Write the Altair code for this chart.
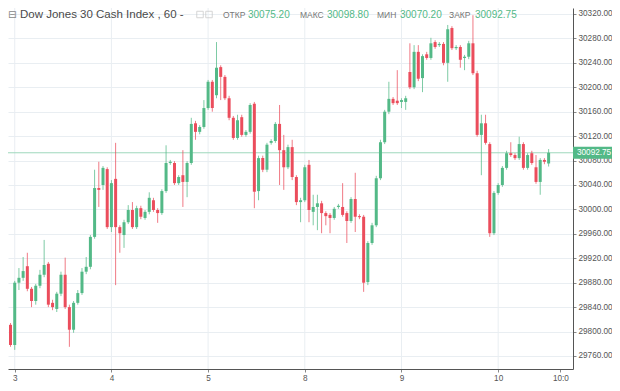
import altair as alt
import pandas as pd

# ---- hourly candles (Dow Jones 30 Cash Index, 60 min) ----
opens = [29811, 29778, 29880, 29888, 29907, 29870, 29850, 29875, 29893, 29911,
         29847, 29837, 29862, 29893, 29840, 29803, 29847, 29863, 29898, 29906,
         29955, 30035, 30040, 30066, 29971, 30050, 29971, 29958, 29979, 29999,
         29971, 30002, 29986, 29996, 30015, 29999, 29994, 30030, 30076, 30076,
         30043, 30056, 30045, 30076, 30141, 30127, 30135, 30166, 30209, 30187,
         30233, 30217, 30182, 30150, 30117, 30151, 30122, 30127, 30173, 30030,
         30084, 30065, 30109, 30112, 30140, 30097, 30069, 30102, 30053, 30012,
         30015, 30073, 29996, 30004, 30010, 29994, 29991, 29986, 30004, 30004,
         29994, 29981, 30017, 29989, 29988, 29881, 29945, 29974, 30051, 30110,
         30160, 30181, 30178, 30176, 30176, 30225, 30200, 30258, 30215, 30254,
         30248, 30274, 30269, 30271, 30240, 30297, 30264, 30266, 30248, 30250,
         30272, 30223, 30122, 30141, 30107, 29961, 30027, 30040, 30068, 30092,
         30089, 30084, 30107, 30068, 30092, 30069, 30045, 30081, 30075.20]
highs = [29814, 29883, 29904, 29922, 29929, 29873, 29878, 29901, 29950, 29914,
         29852, 29865, 29898, 29921, 29844, 29850, 29868, 29904, 29922, 29958,
         30065, 30078, 30071, 30069, 30048, 30109, 29974, 29983, 30007, 30012,
         30006, 30006, 29999, 30028, 30019, 30002, 30033, 30105, 30081, 30079,
         30056, 30097, 30079, 30150, 30145, 30138, 30179, 30212, 30212, 30274,
         30236, 30220, 30186, 30153, 30155, 30155, 30130, 30174, 30176, 30088,
         30088, 30109, 30115, 30143, 30171, 30122, 30106, 30114, 30056, 30019,
         30073, 30081, 30024, 30024, 30014, 29997, 29994, 30004, 30009, 30043,
         29997, 30020, 30060, 29992, 29991, 29948, 29978, 30055, 30114, 30163,
         30209, 30184, 30228, 30182, 30186, 30272, 30269, 30269, 30254, 30258,
         30281, 30277, 30274, 30274, 30302, 30300, 30269, 30269, 30253, 30276,
         30318, 30227, 30155, 30155, 30110, 30030, 30043, 30071, 30096, 30110,
         30092, 30119, 30110, 30092, 30096, 30089, 30084, 30084, 30098.80]
lows = [29775, 29770, 29868, 29883, 29866, 29840, 29844, 29871, 29889, 29840,
        29835, 29832, 29858, 29837, 29775, 29798, 29844, 29860, 29894, 29902,
        29952, 30004, 30032, 29968, 29963, 29876, 29929, 29937, 29976, 29968,
        29968, 29984, 29983, 29992, 29996, 29978, 29991, 30027, 30073, 30040,
        30040, 30004, 30020, 30073, 30114, 30123, 30132, 30163, 30160, 30182,
        30179, 30179, 30146, 30114, 30114, 30119, 30119, 30124, 30002, 30015,
        30061, 30061, 30106, 30109, 30040, 30032, 30066, 30048, 30007, 29979,
        30012, 29979, 29974, 29966, 29961, 29974, 29961, 29983, 30001, 29988,
        29945, 29978, 29963, 29984, 29865, 29876, 29942, 29971, 30048, 30107,
        30156, 30171, 30171, 30166, 30163, 30197, 30197, 30210, 30192, 30245,
        30245, 30263, 30266, 30236, 30209, 30261, 30261, 30232, 30228, 30246,
        30220, 30119, 30056, 30106, 29955, 29958, 30024, 30037, 30065, 30086,
        30081, 30081, 30065, 30065, 30073, 30042, 30024, 30074, 30070.20]
closes = [29778, 29880, 29888, 29899, 29870, 29850, 29875, 29893, 29909, 29844,
          29840, 29862, 29893, 29840, 29803, 29847, 29863, 29898, 29906, 29955,
          30035, 30032, 30068, 29971, 30043, 29971, 29961, 29979, 29999, 29971,
          30002, 29988, 29996, 30019, 29999, 29994, 30030, 30076, 30078, 30043,
          30053, 30045, 30076, 30140, 30127, 30135, 30166, 30209, 30166, 30232,
          30217, 30182, 30150, 30117, 30146, 30122, 30127, 30171, 30029, 30084,
          30065, 30106, 30112, 30140, 30097, 30069, 30102, 30053, 30012, 30015,
          30069, 29999, 30004, 30010, 29994, 29989, 29986, 30001, 30006, 29991,
          29981, 30017, 29988, 29988, 29880, 29945, 29974, 30051, 30110, 30160,
          30181, 30174, 30174, 30179, 30182, 30200, 30258, 30214, 30251, 30248,
          30272, 30266, 30271, 30240, 30295, 30264, 30266, 30245, 30250, 30272,
          30223, 30122, 30141, 30109, 29961, 30027, 30040, 30068, 30092, 30089,
          30084, 30107, 30068, 30089, 30076, 30045, 30081, 30078, 30092.75]

# x-axis: bar index of each day's first bar, and labels
day_positions = [1, 24, 47, 70, 93, 116]
day_labels = ["3", "4", "5", "8", "9", "10"]
end_position = 130.8
end_label = "10:0"

# y-axis ticks
price_ticks = list(range(29760, 30321, 40))

title_text = "Dow Jones 30 Cash Index , 60 -"
ohlc_names = ["ОТКР", "МАКС", "МИН", "ЗАКР"]

UP = "#53b987"
DOWN = "#eb4d5c"
GRID = "#e9eef2"
FONT = "Liberation Sans"

W, H = 565, 361
RIGHT_PAD, BOTTOM_PAD = 39, 13
PX_PER_PT = 0.6107
Y_TOP = 30329.8
Y_DOMAIN = [Y_TOP - H / PX_PER_PT, Y_TOP]
X_DOMAIN = [-0.6, 133.8]

rows = []
for i, (o, h, l, c) in enumerate(zip(opens, highs, lows, closes)):
    top, bot = max(o, c), min(o, c)
    if top - bot < 1.7:
        bot = top - 1.7
    rows.append(dict(idx=i, o=o, h=h, l=l, c=c, top=top, bot=bot,
                     dir="up" if c >= o else "down"))
df = pd.DataFrame(rows)

xscale = alt.Scale(domain=X_DOMAIN, nice=False, zero=False, padding=0)
yscale = alt.Scale(domain=Y_DOMAIN, nice=False, zero=False, padding=0)
cscale = alt.Scale(domain=["up", "down"], range=[UP, DOWN])

tick_values = day_positions + [end_position]
tick_texts = day_labels + [end_label]
expr = "''"
for v, t in reversed(list(zip(tick_values, tick_texts))):
    expr = f"datum.value == {v} ? '{t}' : ({expr})"

xaxis = alt.Axis(values=tick_values, labelExpr=expr, grid=False, title=None,
                 orient="bottom",
                 domainColor="#555555", tickColor="#888888", tickSize=3,
                 labelFontSize=8.2, labelColor="#555555", labelPadding=2,
                 labelFont=FONT, labelFlush=False, labelOverlap=False)
yaxis = alt.Axis(orient="right", values=price_ticks, format=".2f", title=None,
                 grid=True, gridColor=GRID, domainColor="#555555",
                 tickColor="#888888", tickSize=3, labelFontSize=8.2,
                 labelColor="#555555", labelPadding=2, labelFont=FONT,
                 labelOverlap=False, labelSeparation=0)

XQ = lambda f: alt.X(f, scale=xscale, axis=xaxis)
YQ = lambda f: alt.Y(f, scale=yscale, axis=yaxis)

base = alt.Chart(df)

vgrid = alt.Chart(pd.DataFrame({"pos": day_positions})).mark_rule(
    color=GRID, strokeWidth=1).encode(x=XQ("pos:Q"))

last = closes[-1]
price_df = pd.DataFrame({"p": [last], "top": [last + 9.8], "bot": [last - 9.8],
                         "t": [f"{last:.2f}"]})
price_line = alt.Chart(price_df).mark_rule(color="#9ed8bd", strokeWidth=1).encode(
    y=YQ("p:Q"))

wicks = base.mark_rule(strokeWidth=1, opacity=0.75).encode(
    x=XQ("idx:Q"), y=YQ("l:Q"), y2="h:Q",
    color=alt.Color("dir:N", scale=cscale, legend=None))

bodies = base.mark_bar(size=3).encode(
    x=XQ("idx:Q"), y=YQ("top:Q"), y2="bot:Q",
    color=alt.Color("dir:N", scale=cscale, legend=None))

price_box = alt.Chart(price_df).mark_rect(color=UP).encode(
    x=alt.value(W), x2=alt.value(W + RIGHT_PAD),
    y=YQ("top:Q"), y2="bot:Q")
price_txt = alt.Chart(price_df).mark_text(
    color="white", fontSize=8.2, font=FONT, align="left", baseline="middle").encode(
    x=alt.value(W + 4), y=YQ("p:Q"), text="t:N")

HY = 6.5
header = [
    alt.Chart(price_df).mark_text(text="⊟", font="DejaVu Sans", fontSize=10.5,
                                  color="#888888", align="left", baseline="middle")
    .encode(x=alt.value(0), y=alt.value(HY)),
    alt.Chart(price_df).mark_text(text=title_text, font=FONT, fontSize=11.5,
                                  color="#4a4a4a", align="left", baseline="middle")
    .encode(x=alt.value(12), y=alt.value(HY)),
    alt.Chart(price_df).mark_point(shape="square", size=42, filled=False,
                                   color="#c4c4c4", strokeWidth=1)
    .encode(x=alt.value(192), y=alt.value(HY)),
    alt.Chart(price_df).mark_point(shape="square", size=42, filled=False,
                                   color="#c4c4c4", strokeWidth=1)
    .encode(x=alt.value(201), y=alt.value(HY)),
]
ohlc_vals = [opens[-1], highs[-1], lows[-1], closes[-1]]
name_x = [215, 292, 369, 441]
val_x = [240, 319, 392, 467]
for n, v, nx, vx in zip(ohlc_names, ohlc_vals, name_x, val_x):
    header.append(alt.Chart(price_df).mark_text(
        text=n, font=FONT, fontSize=8.5, color="#777777", align="left",
        baseline="middle").encode(x=alt.value(nx), y=alt.value(HY)))
    header.append(alt.Chart(price_df).mark_text(
        text=f"{v:.2f}", font=FONT, fontSize=10, color=UP, align="left",
        baseline="middle").encode(x=alt.value(vx), y=alt.value(HY)))

chart = alt.layer(vgrid, price_line, wicks, bodies, price_box, price_txt, *header).properties(
    width=W, height=H,
    autosize=alt.AutoSizeParams(type="none"),
    padding={"left": 0, "top": 0, "right": RIGHT_PAD, "bottom": BOTTOM_PAD},
    background="white",
).configure_view(stroke=None)

chart.save("out.html", embed_options={"renderer": "svg", "actions": False})
